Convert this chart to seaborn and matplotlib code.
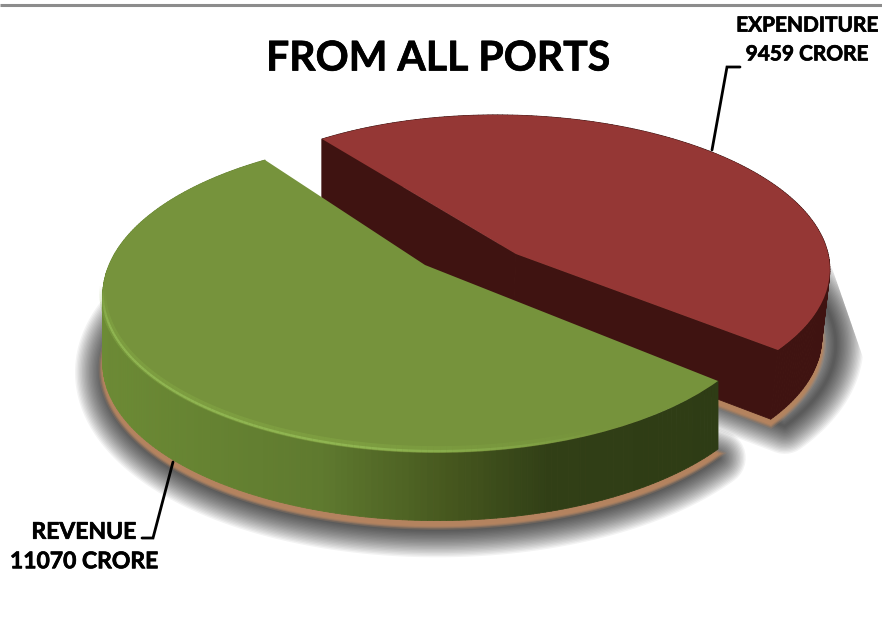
import numpy as np
import matplotlib
matplotlib.use("Agg")
import matplotlib.pyplot as plt
import matplotlib.patheffects as pe
import matplotlib.transforms as mtrans
from matplotlib.collections import LineCollection, PolyCollection
from matplotlib.colors import LinearSegmentedColormap, to_rgb
from matplotlib.patches import Polygon
import seaborn as sns

# values printed on the chart
slice_names = ['REVENUE', 'EXPENDITURE']
slice_values = [11070, 9459]
slice_labels = ['REVENUE\n11070 CRORE', 'EXPENDITURE\n9459 CRORE']
top_colors = ['#76933C', '#953735']
chart_title = 'FROM ALL PORTS'

sns.set_theme(style='white')
plt.rcParams['font.family'] = ['Lato', 'DejaVu Sans']


def fit_homography(src, dst):
    rows, rhs = [], []
    for (x, y), (u, v) in zip(src, dst):
        rows.append([x, y, 1, 0, 0, 0, -u * x, -u * y])
        rows.append([0, 0, 0, x, y, 1, -v * x, -v * y])
        rhs += [u, v]
    return np.append(np.linalg.solve(np.array(rows, float), np.array(rhs, float)), 1).reshape(3, 3)


class Perspective(mtrans.Transform):
    """Lays the flat unit pie down on the tilted plane of the picture."""
    input_dims = 2
    output_dims = 2
    is_affine = False

    def __init__(self, matrix):
        super().__init__()
        self.matrix = matrix

    def transform_non_affine(self, values):
        pts = np.column_stack([values, np.ones(len(values))]) @ self.matrix.T
        return pts[:, :2] / pts[:, 2:]


def unit(deg):
    rad = np.radians(deg)
    return np.column_stack([np.cos(rad), np.sin(rad)])


def draw_shadow(ax, outline, clip, shift):
    # stacked soft strokes give the blurred drop shadow
    clip_patch = Polygon(clip, transform=ax.transData)
    for lw in np.arange(40, 0, -2):
        p = Polygon(outline + shift, closed=True, fc='none', ec='black', lw=lw, alpha=0.048,
                    joinstyle='round', zorder=1)
        ax.add_patch(p)
        p.set_clip_path(clip_patch)
    for lw, alpha in [(6, 0.25), (4, 0.45), (2.5, 0.65), (1, 0.9)]:
        p = Polygon(outline + [0, 5], closed=True, fc='#B5845F', ec='#B5845F', lw=lw, alpha=alpha, zorder=1.5)
        ax.add_patch(p)
        p.set_clip_path(clip_patch)


def fading_line(ax, xy, color, lw, alpha, zorder):
    segs = np.stack([xy[:-1], xy[1:]], axis=1)
    fade = np.clip(np.minimum(np.linspace(0, 8, len(segs)), np.linspace(3, 0, len(segs))), 0, 1) * alpha
    colors = [(*to_rgb(color), a) for a in fade]
    ax.add_collection(LineCollection(segs, colors=colors, linewidths=lw, zorder=zorder))


def main():
    fig, ax = plt.subplots(figsize=(8.82, 6.3), dpi=100)
    fig.subplots_adjust(left=0, right=1, top=1, bottom=0)

    wedges, _ = ax.pie(slice_values, colors=sns.color_palette(top_colors), startangle=110,
                       wedgeprops={'linewidth': 0})
    ax.set_aspect('auto')
    ax.set_xlim(0, 882)
    ax.set_ylim(630, 0)
    ax.axis('off')

    green, red = wedges
    split_a, split_b = green.theta1, green.theta2

    # plane of each slice: centre, two cut ends and one point of the rim
    src = np.vstack([[0, 0], unit(split_a), unit(split_b), unit(207)])
    h_green = Perspective(fit_homography(src, [(425, 265), (265, 160), (718, 381), (154, 379)]))
    src = np.vstack([[0, 0], unit(split_a), unit(split_b), unit(27)])
    h_red = Perspective(fit_homography(src, [(516, 254), (322, 139), (778, 350), (726, 158)]))

    green.set_transform(h_green + ax.transData)
    red.set_transform(h_red + ax.transData)
    red.set_zorder(4)
    green.set_zorder(7)

    # rim of each slice
    rim_g = h_green.transform_non_affine(unit(np.linspace(green.theta1, green.theta2, 220)))
    rim_r = h_red.transform_non_affine(unit(np.linspace(red.theta1, red.theta2, 180)))
    centre_g = h_green.transform_non_affine(np.array([[0.0, 0.0]]))
    centre_r = h_red.transform_non_affine(np.array([[0.0, 0.0]]))

    def drop_green(xy):
        return xy + [0, 68]

    def drop_red(xy):
        depth = 66 + (xy[:, 1] - 140) * 0.015
        return xy + np.column_stack([-(xy[:, 0] - 322) * 0.016, depth])

    # shadows go under everything
    low_g = np.vstack([drop_green(rim_g), drop_green(centre_g)])
    low_r = np.vstack([drop_red(rim_r), drop_red(centre_r)])
    draw_shadow(ax, low_r, [(500, 200), (832, 268), (868, 372), (868, 560), (500, 560)], [14, 7])
    draw_shadow(ax, low_g, [(40, 288), (700, 288), (882, 440), (882, 558), (40, 558)], [0, 9])

    # red side and cut faces
    outline = np.vstack([rim_r[-1], centre_r, rim_r[0]])
    quads = [[outline[i], outline[i + 1], drop_red(outline[i + 1:i + 2])[0], drop_red(outline[i:i + 1])[0]]
             for i in range(len(outline) - 1)]
    quads += [[rim_r[i], rim_r[i + 1], drop_red(rim_r[i + 1:i + 2])[0], drop_red(rim_r[i:i + 1])[0]]
              for i in range(len(rim_r) - 1)]
    ax.add_collection(PolyCollection(quads, facecolors='#3F1311', edgecolors='#3F1311', lw=0.6, zorder=3))

    # green side, shaded from left to right
    side_cmap = LinearSegmentedColormap.from_list('side', [(0, '#6C8B35'), (0.35, '#5F7A2F'), (0.55, '#47591F'),
                                                           (0.72, '#313F16'), (1, '#2E3C15')])
    quads, shades = [], []
    for i in range(len(rim_g) - 1):
        quads.append([rim_g[i], rim_g[i + 1], drop_green(rim_g[i + 1]), drop_green(rim_g[i])])
        shades.append(side_cmap((rim_g[i, 0] - 100) / 620))
    ax.add_collection(PolyCollection(quads, facecolors=shades, edgecolors=shades, lw=0.6, zorder=6))

    # bevel highlight on the green rim, fading out at both ends
    keep = (rim_g[:, 0] < 620) & (rim_g[:, 1] > 285)
    fading_line(ax, rim_g[keep] - [0, 3], '#84A845', 5, 0.5, 8)
    fading_line(ax, rim_g[keep] - [0, 1.5], '#93BA55', 1.6, 0.85, 8)

    # top rule, title and labels
    heavy = [pe.withStroke(linewidth=0.5, foreground='black')]
    ax.plot([0, 882], [5, 5], color='#8C8C8C', lw=2.2, zorder=9, solid_capstyle='butt')
    ax.text(438, 59, chart_title, ha='center', va='center', fontsize=29.5, fontweight='bold',
            color='black', zorder=10, path_effects=heavy)
    ax.text(84, 547, slice_labels[0], ha='center', va='center', fontsize=16.5, fontweight='bold',
            linespacing=1.5, color='black', zorder=10, path_effects=heavy)
    ax.text(807, 40, slice_labels[1], ha='center', va='center', fontsize=15, fontweight='bold',
            linespacing=1.55, color='black', zorder=10, path_effects=heavy)
    ax.plot([173, 153, 142], [462, 538, 538], color='black', lw=2, zorder=10, solid_joinstyle='miter')
    ax.plot([712, 727, 740], [150, 67, 67], color='black', lw=2, zorder=10, solid_joinstyle='miter')

    plt.savefig('out.png', dpi=100)
    plt.close()


if __name__ == "__main__":
    main()
